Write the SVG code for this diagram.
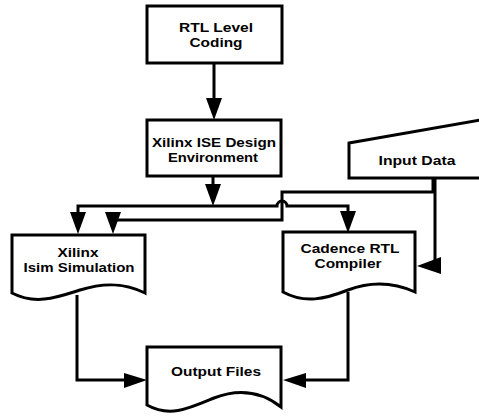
<svg xmlns="http://www.w3.org/2000/svg" width="479" height="416" viewBox="0 0 479 416">
<style>
.box{fill:#fff;stroke:#000;stroke-width:3;stroke-linejoin:miter}
.ln{fill:none;stroke:#000;stroke-width:3}
.ah{fill:#000;stroke:none}
text{font-family:"Liberation Sans",Arial,sans-serif;font-weight:bold;font-size:13px;fill:#000;text-anchor:middle}
</style>
<rect width="479" height="416" fill="#fff"/>
<g id="connectors">
  <path class="ln" d="M214,63 V100"/>
  <polygon class="ah" points="206,98 222,98 214,120"/>
  <path class="ln" d="M213,176 V186"/>
  <polygon class="ah" points="205,184 221,184 213,206"/>
  <path class="ln" d="M78,214 V206 H277 A5,5 0 0 1 287,206 H348 V214"/>
  <polygon class="ah" points="70,212 86,212 78,234"/>
  <polygon class="ah" points="340,211 356,211 348,233"/>
  <path class="ln" d="M433,178 V192 H282 V220 H113 V214"/>
  <polygon class="ah" points="105,212 121,212 113,234"/>
  <path class="ln" d="M435,178 V265 H438"/>
  <polygon class="ah" points="441,257 441,274 417,266"/>
  <path class="ln" d="M77,295 V380 H126"/>
  <polygon class="ah" points="124,373 124,388 147,380"/>
  <path class="ln" d="M348,292 V380 H305"/>
  <polygon class="ah" points="306,373 306,388 283,380"/>
</g>
<g id="rtl">
  <rect class="box" x="147" y="6" width="135" height="57"/>
  <text x="216" y="32" textLength="74" lengthAdjust="spacingAndGlyphs">RTL Level</text>
  <text x="216" y="47" textLength="53" lengthAdjust="spacingAndGlyphs">Coding</text>
</g>
<g id="ise">
  <rect class="box" x="147" y="120" width="134" height="56"/>
  <text x="214" y="147" textLength="124" lengthAdjust="spacingAndGlyphs">Xilinx ISE Design</text>
  <text x="213" y="162" textLength="90" lengthAdjust="spacingAndGlyphs">Environment</text>
</g>
<g id="input">
  <polygon class="box" points="349,143 492,118 492,178 349,178"/>
  <text x="417" y="165" textLength="77" lengthAdjust="spacingAndGlyphs">Input Data</text>
</g>
<g id="isim">
  <path class="box" d="M12,235 H145 V293 C125,283 105,282 80,290 C55,298 35,305 12,293 Z"/>
  <text x="78" y="257" textLength="41" lengthAdjust="spacingAndGlyphs">Xilinx</text>
  <text x="79" y="272" textLength="111" lengthAdjust="spacingAndGlyphs">Isim Simulation</text>
</g>
<g id="cadence">
  <path class="box" d="M283,232 H415 V292 C395,283 372,281 348,290 C325,299 305,304 283,292 Z"/>
  <text x="350" y="253" textLength="99" lengthAdjust="spacingAndGlyphs">Cadence RTL</text>
  <text x="348" y="268" textLength="67" lengthAdjust="spacingAndGlyphs">Compiler</text>
</g>
<g id="output">
  <path class="box" d="M147,347 H281 V407 C262,392 240,388 214,398 C190,408 170,418 147,405 Z"/>
  <text x="216" y="376" textLength="90" lengthAdjust="spacingAndGlyphs">Output Files</text>
</g>
</svg>
